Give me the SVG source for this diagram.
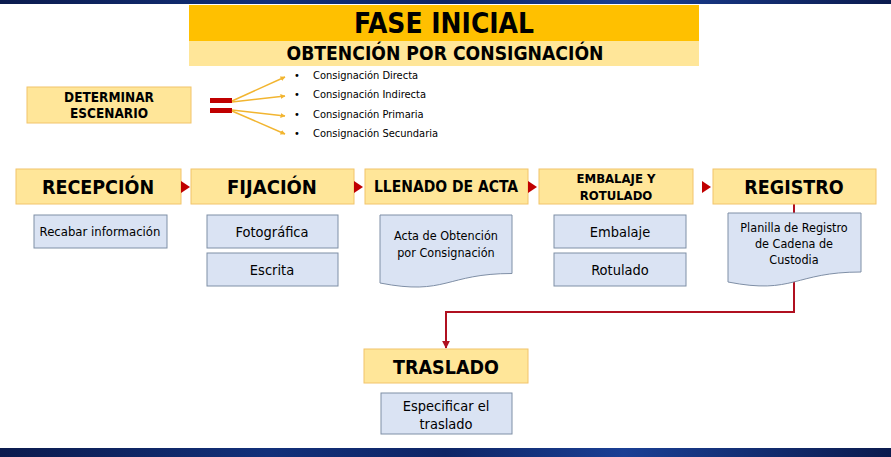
<svg xmlns="http://www.w3.org/2000/svg" width="891" height="457" viewBox="0 0 891 457">
<style>
.t{font-family:"DejaVu Sans Condensed","DejaVu Sans",sans-serif;fill:#000;text-anchor:middle}
.b{font-weight:bold}
.hdr{fill:#FFE699;stroke:#F2C46B;stroke-width:1}
.sub{fill:#DAE3F3;stroke:#7F8FA6;stroke-width:1}
.opt{font-family:"DejaVu Sans Condensed","DejaVu Sans",sans-serif;font-size:11px;fill:#000}
.fan{stroke:#F2B530;stroke-width:1.5;fill:none;marker-end:url(#ya)}
.con{stroke:#B01020;stroke-width:2;fill:none}
.tri{fill:#C00000}
</style>
<defs>
<linearGradient id="band" x1="0" y1="0" x2="1" y2="0">
<stop offset="0" stop-color="#0B1B4E"/>
<stop offset="0.3" stop-color="#12307A"/>
<stop offset="0.5" stop-color="#0E2566"/>
<stop offset="0.7" stop-color="#1A3F94"/>
<stop offset="1" stop-color="#0B1B4E"/>
</linearGradient>
<marker id="ya" viewBox="0 0 10 10" refX="9" refY="5" markerWidth="5" markerHeight="5" orient="auto" markerUnits="userSpaceOnUse">
<path d="M0,0 L10,5 L0,10 Z" fill="#F2B530"/>
</marker>
<marker id="ra" viewBox="0 0 10 10" refX="9" refY="5" markerWidth="8" markerHeight="8" orient="auto" markerUnits="userSpaceOnUse">
<path d="M0,0 L10,5 L0,10 Z" fill="#B01020"/>
</marker>
</defs>
<rect x="0" y="0" width="891" height="457" fill="#fff"/>
<rect x="0" y="0" width="891" height="4" fill="url(#band)"/>
<rect x="0" y="448" width="891" height="9" fill="url(#band)"/>

<g id="title">
<rect x="189" y="5" width="510" height="36" fill="#FFC000"/>
<rect x="189" y="41" width="510" height="25" fill="#FFE699"/>
<text class="t b" x="444" y="33" font-size="28" textLength="180" lengthAdjust="spacingAndGlyphs">FASE INICIAL</text>
<text class="t b" x="445" y="60" font-size="19" textLength="317" lengthAdjust="spacingAndGlyphs">OBTENCIÓN POR CONSIGNACIÓN</text>
</g>

<g id="determinar">
<rect class="hdr" x="27" y="87" width="164" height="36"/>
<text class="t b" x="109" y="102" font-size="13.5">DETERMINAR</text>
<text class="t b" x="109" y="118" font-size="13.5">ESCENARIO</text>
</g>

<g id="equals">
<rect x="210" y="98" width="22" height="5" fill="#C00000"/>
<rect x="210" y="108" width="22" height="5" fill="#C00000"/>
</g>

<g id="escenarios">
<text class="opt" x="294" y="79" font-size="9">•</text>
<text class="opt" x="313" y="79">Consignación Directa</text>
<text class="opt" x="294" y="98" font-size="9">•</text>
<text class="opt" x="313" y="98">Consignación Indirecta</text>
<text class="opt" x="294" y="118" font-size="9">•</text>
<text class="opt" x="313" y="118">Consignación Primaria</text>
<text class="opt" x="294" y="137" font-size="9">•</text>
<text class="opt" x="313" y="137">Consignación Secundaria</text>
</g>

<g id="recepcion">
<rect class="hdr" x="16" y="169" width="165" height="35"/>
<text class="t b" x="98" y="194" font-size="19.5">RECEPCIÓN</text>
</g>
<g id="recabar">
<rect class="sub" x="34" y="215" width="133" height="33"/>
<text class="t" x="100" y="236" font-size="13">Recabar información</text>
</g>

<g id="fijacion">
<rect class="hdr" x="191" y="169" width="163" height="35"/>
<text class="t b" x="272" y="194" font-size="20">FIJACIÓN</text>
</g>
<g id="fotografica">
<rect class="sub" x="207" y="215" width="131" height="33"/>
<text class="t" x="272" y="237" font-size="14.5">Fotográfica</text>
</g>
<g id="escrita">
<rect class="sub" x="207" y="253" width="131" height="33"/>
<text class="t" x="272" y="275" font-size="14.5">Escrita</text>
</g>

<g id="llenado">
<rect class="hdr" x="365" y="169" width="163" height="35"/>
<text class="t b" x="446" y="192" font-size="15.5">LLENADO DE ACTA</text>
</g>
<g id="acta">
<path class="sub" d="M380,215 H512 V273.5 C446,273.5 446,296 380,283 Z"/>
<text class="t" x="446" y="240" font-size="12.5">Acta de Obtención</text>
<text class="t" x="446" y="257" font-size="12.5">por Consignación</text>
</g>

<g id="embalaje-rotulado">
<rect class="hdr" x="539" y="169" width="154" height="35"/>
<text class="t b" x="616" y="183" font-size="13">EMBALAJE Y</text>
<text class="t b" x="616" y="200" font-size="13">ROTULADO</text>
</g>
<g id="embalaje">
<rect class="sub" x="554" y="215" width="132" height="33"/>
<text class="t" x="620" y="237" font-size="14.5">Embalaje</text>
</g>
<g id="rotulado">
<rect class="sub" x="554" y="253" width="132" height="33"/>
<text class="t" x="620" y="275" font-size="14.5">Rotulado</text>
</g>

<g id="connectors">
<path class="tri" d="M181,181 L190,187 L181,193 Z"/>
<path class="tri" d="M354,181 L363,187 L354,193 Z"/>
<path class="tri" d="M528,181 L537,187 L528,193 Z"/>
<path class="tri" d="M702,181 L711,187 L702,193 Z"/>
<path class="fan" d="M232,101 L285,77"/>
<path class="fan" d="M232,102 L285,96"/>
<path class="fan" d="M232,110 L285,116"/>
<path class="fan" d="M232,111 L285,134"/>
<path class="con" d="M794,204 V213"/>
<path class="con" d="M794,280 V312 H446 V348" marker-end="url(#ra)"/>
</g>

<g id="registro">
<rect class="hdr" x="713" y="169" width="163" height="35"/>
<text class="t b" x="794" y="194" font-size="19.5">REGISTRO</text>
</g>
<g id="planilla">
<path class="sub" d="M728,213 H861 V272 C794,272 794,295 728,282 Z"/>
<text class="t" x="794" y="232" font-size="12.5">Planilla de Registro</text>
<text class="t" x="794" y="248" font-size="12.5">de Cadena de</text>
<text class="t" x="794" y="264" font-size="12.5">Custodia</text>
</g>

<g id="traslado">
<rect class="hdr" x="364" y="349" width="164" height="34"/>
<text class="t b" x="446" y="374" font-size="19.5">TRASLADO</text>
</g>
<g id="especificar">
<rect class="sub" x="381" y="393" width="131" height="41"/>
<text class="t" x="446" y="411" font-size="14.5">Especificar el</text>
<text class="t" x="446" y="429" font-size="14.5">traslado</text>
</g>
</svg>
